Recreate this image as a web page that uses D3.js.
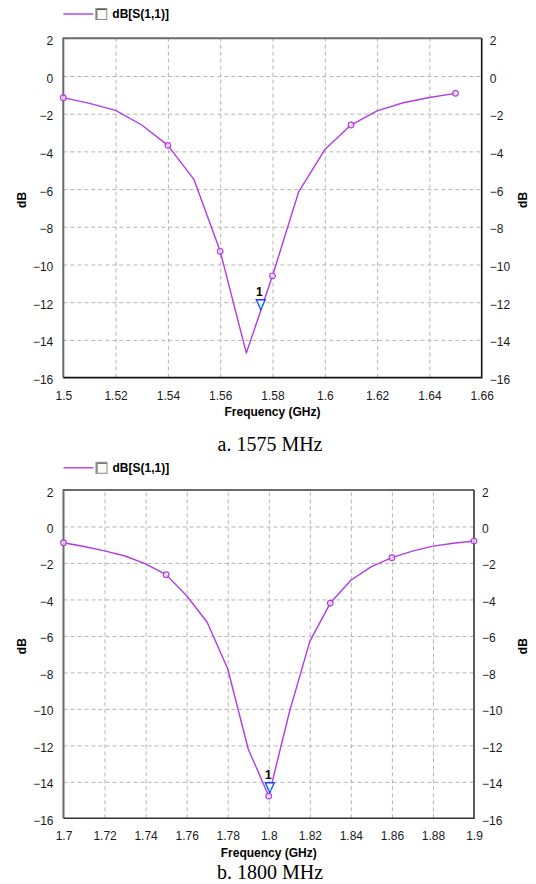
<!DOCTYPE html>
<html>
<head>
<meta charset="utf-8">
<script src="https://cdn.jsdelivr.net/npm/d3@7"></script>
<style>
  html, body { margin: 0; padding: 0; background: #fff; }
  svg { display: block; }
</style>
</head>
<body>
<svg id="chart" width="536" height="884"></svg>
<script>
// ---- Data ----
const seriesName = "dB[S(1,1)]";
const yTicks = [2, 0, -2, -4, -6, -8, -10, -12, -14, -16];

// Chart a: 1575 MHz
const freqA = [1.50, 1.51, 1.52, 1.53, 1.54, 1.55, 1.56, 1.57, 1.58, 1.59, 1.60, 1.61, 1.62, 1.63, 1.64, 1.65];
const s11A  = [-1.15, -1.45, -1.82, -2.60, -3.68, -5.50, -9.30, -14.70, -10.60, -6.15, -3.90, -2.60, -1.85, -1.42, -1.14, -0.92];
const xTicksA = [1.5, 1.52, 1.54, 1.56, 1.58, 1.6, 1.62, 1.64, 1.66];
const xTickLabelsA = ["1.5", "1.52", "1.54", "1.56", "1.58", "1.6", "1.62", "1.64", "1.66"];
const dotFreqA = [1.50, 1.54, 1.56, 1.58, 1.61, 1.65];
const markerFreqA = 1.5755, markerDbA = -12.4;
const captionA = "a. 1575 MHz";

// Chart b: 1800 MHz
const freqB = [1.70, 1.71, 1.72, 1.73, 1.74, 1.75, 1.76, 1.77, 1.78, 1.79, 1.80, 1.81, 1.82, 1.83, 1.84, 1.85, 1.86, 1.87, 1.88, 1.89, 1.90];
const s11B  = [-0.89, -1.10, -1.34, -1.62, -2.05, -2.64, -3.80, -5.25, -7.80, -12.20, -14.78, -10.20, -6.30, -4.20, -2.95, -2.20, -1.71, -1.35, -1.08, -0.92, -0.80];
const xTicksB = [1.7, 1.72, 1.74, 1.76, 1.78, 1.8, 1.82, 1.84, 1.86, 1.88, 1.9];
const xTickLabelsB = ["1.7", "1.72", "1.74", "1.76", "1.78", "1.8", "1.82", "1.84", "1.86", "1.88", "1.9"];
const dotFreqB = [1.70, 1.75, 1.80, 1.83, 1.86, 1.90];
const markerFreqB = 1.8005, markerDbB = -14.6;
const captionB = "b. 1800 MHz";

// ---- Drawing ----
const svg = d3.select("#chart");
const SANS = "'Liberation Sans', Arial, Helvetica, sans-serif";
const SERIF = "'Liberation Serif', 'Times New Roman', serif";
const LINE = "#b03ce6";

function drawChart(cfg) {
  const g = svg.append("g");
  const x = d3.scaleLinear().domain([cfg.xTicks[0], cfg.xTicks[cfg.xTicks.length - 1]]).range([cfg.left, cfg.right]);
  const y = d3.scaleLinear().domain([2, -16]).range([cfg.top, cfg.bottom]);
  const w = cfg.right - cfg.left, h = cfg.bottom - cfg.top;

  // legend
  const ly = cfg.legendY;
  g.append("line").attr("x1", cfg.left).attr("x2", cfg.left + 30).attr("y1", ly).attr("y2", ly)
    .attr("stroke", LINE).attr("stroke-width", 1.4);
  g.append("rect").attr("x", cfg.left + 32.5).attr("y", ly - 5.5).attr("width", 11).attr("height", 11)
    .attr("fill", "#fbfbf6").attr("stroke", "#8a8a8a").attr("stroke-width", 1);
  g.append("path").attr("d", `M${cfg.left + 33.5},${ly + 5} V${ly - 4.5} H${cfg.left + 43}`)
    .attr("fill", "none").attr("stroke", "#555").attr("stroke-width", 1);
  g.append("text").attr("x", cfg.left + 49).attr("y", ly).attr("dy", "0.36em")
    .attr("font-family", SANS).attr("font-size", 12).attr("font-weight", "bold").attr("fill", "#000")
    .text(seriesName);

  // grid
  g.append("g").attr("transform", `translate(0,${cfg.bottom})`)
    .call(d3.axisBottom(x).tickValues(cfg.xTicks.slice(1, -1)).tickSize(-h).tickFormat(""))
    .call(s => s.select(".domain").remove())
    .call(s => s.selectAll("line").attr("stroke", "#b4b4b4").attr("stroke-dasharray", "4,3"));
  g.append("g").attr("transform", `translate(${cfg.left},0)`)
    .call(d3.axisLeft(y).tickValues(yTicks.slice(1, -1)).tickSize(-w).tickFormat(""))
    .call(s => s.select(".domain").remove())
    .call(s => s.selectAll("line").attr("stroke", "#b4b4b4").attr("stroke-dasharray", "4,3"));

  // frame
  g.append("path").attr("d", `M${cfg.left},${cfg.bottom} V${cfg.top} H${cfg.right}`)
    .attr("fill", "none").attr("stroke", "#6a6a6a").attr("stroke-width", 2);
  g.append("path").attr("d", `M${cfg.right},${cfg.top} V${cfg.bottom} H${cfg.left}`)
    .attr("fill", "none").attr("stroke", cfg.frameDark).attr("stroke-width", 1.6);

  // axis labels
  const tickText = s => s.selectAll("text").attr("font-family", SANS).attr("font-size", 12).attr("fill", "#1a1a1a");
  g.append("g").attr("transform", `translate(${cfg.left},0)`)
    .call(d3.axisLeft(y).tickValues(yTicks).tickSize(0).tickPadding(10).tickFormat(d3.format("d")))
    .call(s => s.select(".domain").remove())
    .call(tickText)
    .call(s => s.selectAll("text").attr("dy", "0.5em"));
  g.append("g").attr("transform", `translate(${cfg.right},0)`)
    .call(d3.axisRight(y).tickValues(yTicks).tickSize(0).tickPadding(8).tickFormat(d3.format("d")))
    .call(s => s.select(".domain").remove())
    .call(tickText)
    .call(s => s.selectAll("text").attr("dy", "0.5em"));
  g.append("g").attr("transform", `translate(0,${cfg.bottom})`)
    .call(d3.axisBottom(x).tickValues(cfg.xTicks).tickSize(0).tickPadding(13.5)
      .tickFormat((d, i) => cfg.xLabels[i]))
    .call(s => s.select(".domain").remove())
    .call(tickText);

  g.append("text").attr("x", (cfg.left + cfg.right) / 2).attr("y", cfg.bottom + 38.5)
    .attr("text-anchor", "middle").attr("font-family", SANS).attr("font-size", 12).attr("font-weight", "bold")
    .attr("fill", "#000").text("Frequency (GHz)");

  const midY = (cfg.top + cfg.bottom) / 2 - 8;
  [22, 523].forEach(cx => {
    g.append("text").attr("transform", `translate(${cx},${midY}) rotate(-90)`)
      .attr("text-anchor", "middle").attr("dy", "0.35em")
      .attr("font-family", SANS).attr("font-size", 12).attr("font-weight", "bold").attr("fill", "#000")
      .text("dB");
  });

  // series line
  const pts = cfg.freq.map((f, i) => [f, cfg.vals[i]]);
  g.append("path").datum(pts)
    .attr("d", d3.line().x(d => x(d[0])).y(d => y(d[1])))
    .attr("fill", "none").attr("stroke", LINE).attr("stroke-width", 1.4).attr("stroke-linejoin", "round");

  // data dots
  const dots = cfg.dots.map(f => {
    const i = cfg.freq.findIndex(v => Math.abs(v - f) < 1e-9);
    return [f, cfg.vals[i]];
  });
  g.selectAll("circle.dot").data(dots).join("circle").attr("class", "dot")
    .attr("cx", d => x(d[0])).attr("cy", d => y(d[1])).attr("r", 2.8)
    .attr("fill", "#fff").attr("fill-opacity", 0.6).attr("stroke", LINE).attr("stroke-width", 1.2);

  // marker 1
  const mx = x(cfg.markerF), my = y(cfg.markerDb);
  g.append("path").attr("d", `M${mx - 4.5},${my - 10} H${mx + 4.5} L${mx},${my} Z`)
    .attr("fill", "#e8fbff").attr("stroke", "#1f3cff").attr("stroke-width", 1.3);
  g.append("line").attr("x1", mx - 1).attr("x2", mx + 1.5).attr("y1", my - 3).attr("y2", my - 3)
    .attr("stroke", "#40e0f0").attr("stroke-width", 2);
  g.append("text").attr("x", mx - 1.5).attr("y", my - 14).attr("text-anchor", "middle")
    .attr("font-family", SANS).attr("font-size", 12).attr("font-weight", "bold").attr("fill", "#000").text("1");

  // caption
  g.append("text").attr("x", 270).attr("y", cfg.captionY).attr("text-anchor", "middle")
    .attr("font-family", SERIF).attr("font-size", 20).attr("fill", "#000").text(cfg.caption);
}

drawChart({
  left: 63.3, right: 481.7, top: 38.3, bottom: 377.6, legendY: 14,
  xTicks: xTicksA, xLabels: xTickLabelsA, freq: freqA, vals: s11A, dots: dotFreqA,
  markerF: markerFreqA, markerDb: markerDbA, caption: captionA, captionY: 451, frameDark: "#111"
});
drawChart({
  left: 63.5, right: 474, top: 490, bottom: 818.3, legendY: 467.8,
  xTicks: xTicksB, xLabels: xTickLabelsB, freq: freqB, vals: s11B, dots: dotFreqB,
  markerF: markerFreqB, markerDb: markerDbB, caption: captionB, captionY: 878.5, frameDark: "#333"
});
</script>
</body>
</html>
